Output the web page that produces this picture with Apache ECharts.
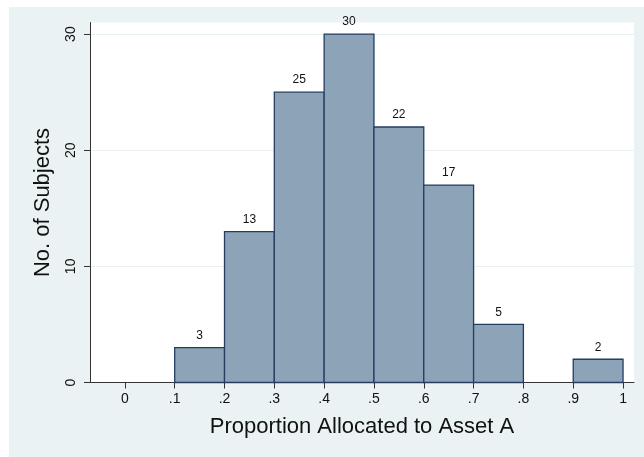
<!DOCTYPE html>
<html><head><meta charset="utf-8">
<script src="https://cdn.jsdelivr.net/npm/echarts@6/dist/echarts.min.js"></script>
<style>html,body{margin:0;padding:0;background:#fff}#c{width:644px;height:457px}</style>
</head><body><div id="c"></div>
<script>
var binStarts = [0.1, 0.2, 0.3, 0.4, 0.5, 0.6, 0.7, 0.8, 0.9];
var binEnds   = [0.2, 0.3, 0.4, 0.5, 0.6, 0.7, 0.8, 0.9, 1.0];
var counts    = [3, 13, 25, 30, 22, 17, 5, 0, 2];
var xTicks = [0, 0.1, 0.2, 0.3, 0.4, 0.5, 0.6, 0.7, 0.8, 0.9, 1];
var xTickLabels = ['0', '.1', '.2', '.3', '.4', '.5', '.6', '.7', '.8', '.9', '1'];
var yTicks = [0, 10, 20, 30];

var chart = echarts.init(document.getElementById('c'));
var data = [];
for (var i = 0; i < counts.length; i++) {
  if (counts[i] > 0) data.push([binStarts[i], binEnds[i], counts[i]]);
}
var font = 'Liberation Sans, Arial, Helvetica, sans-serif';
chart.setOption({
  backgroundColor: '#ffffff',
  animation: false,
  graphic: [{
    type: 'rect', z: -10, silent: true,
    shape: {x: 9, y: 7, width: 635, height: 450},
    style: {fill: '#eaf2f3'}
  }],
  grid: {left: 90, right: 10, top: 22.5, bottom: 74.5, show: true, backgroundColor: '#ffffff', borderWidth: 0},
  xAxis: {
    type: 'value', min: -0.07, max: 1.022,
    axisLine: {show: true, onZero: false, lineStyle: {color: '#333', width: 1}},
    axisTick: {show: true, length: 6, lineStyle: {color: '#333'}, customValues: xTicks},
    axisLabel: {
      color: '#111', fontSize: 14, fontFamily: font, margin: 10,
      customValues: xTicks,
      formatter: function (v) {
        var idx = xTicks.findIndex(function (t) { return Math.abs(t - v) < 1e-6; });
        return idx >= 0 ? xTickLabels[idx] : '';
      }
    },
    splitLine: {show: false},
    name: 'Proportion Allocated to Asset A', nameLocation: 'middle', nameGap: 33,
    nameTextStyle: {color: '#111', fontSize: 22, fontFamily: font}
  },
  yAxis: {
    type: 'value', min: 0, max: 31,
    axisLine: {show: true, onZero: false, lineStyle: {color: '#333', width: 1}},
    axisTick: {show: true, length: 6, lineStyle: {color: '#333'}, customValues: yTicks},
    axisLabel: {color: '#111', fontSize: 14, fontFamily: font, rotate: 90, margin: 12, customValues: yTicks},
    splitLine: {show: true, lineStyle: {color: '#e8f0f1', width: 1}},
    name: 'No. of Subjects', nameLocation: 'middle', nameGap: 36,
    nameTextStyle: {color: '#111', fontSize: 22, fontFamily: font}
  },
  series: [{
    type: 'custom',
    clip: false,
    data: data,
    renderItem: function (params, api) {
      var p0 = api.coord([api.value(0), 0]);
      var p1 = api.coord([api.value(1), api.value(2)]);
      return {
        type: 'group',
        children: [{
          type: 'rect',
          shape: {x: p0[0], y: p1[1], width: p1[0] - p0[0], height: p0[1] - p1[1]},
          style: {fill: '#8da3b7', stroke: '#243d63', lineWidth: 1.3}
        }, {
          type: 'text',
          style: {
            x: (p0[0] + p1[0]) / 2, y: p1[1] - 6,
            text: String(api.value(2)),
            fill: '#111', fontSize: 12, fontFamily: font,
            align: 'center', verticalAlign: 'bottom'
          }
        }]
      };
    }
  }]
});
</script></body></html>
